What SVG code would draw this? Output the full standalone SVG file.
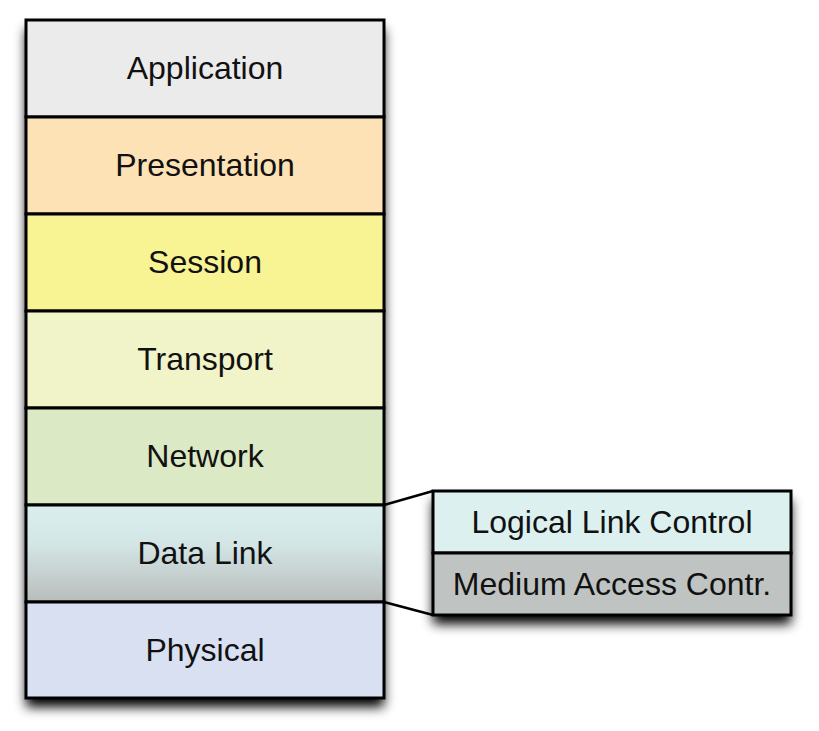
<svg xmlns="http://www.w3.org/2000/svg" width="819" height="731" viewBox="0 0 819 731">
<style>
.box{stroke:#000;stroke-width:3}
.lbl{font-family:"Liberation Sans",Arial,sans-serif;font-size:32px;fill:#111;text-anchor:middle}
.con{stroke:#000;stroke-width:2.5;fill:none}
</style>
<defs>
<filter id="sh" x="-20%" y="-20%" width="140%" height="140%">
<feGaussianBlur in="SourceAlpha" stdDeviation="6"/>
<feOffset dx="0" dy="9" result="b"/>
<feComponentTransfer><feFuncA type="linear" slope="1"/></feComponentTransfer>
<feMerge><feMergeNode/><feMergeNode in="SourceGraphic"/></feMerge>
</filter>
<linearGradient id="dl" x1="0" y1="0" x2="0" y2="1">
<stop offset="0" stop-color="#d9efee"/>
<stop offset="0.4" stop-color="#d3e6e5"/>
<stop offset="1" stop-color="#b9bdbc"/>
</linearGradient>
</defs>
<rect x="26" y="20" width="358" height="678" fill="#fff" filter="url(#sh)"/>
<rect x="433" y="491" width="358" height="124" fill="#fff" filter="url(#sh)"/>
<g id="connectors">
<line class="con" x1="384" y1="505" x2="433" y2="491"/>
<line class="con" x1="384" y1="602" x2="433" y2="615"/>
</g>
<g id="application"><rect class="box" x="26" y="20" width="358" height="97" fill="#ebebeb"/><text class="lbl" x="205" y="79">Application</text></g>
<g id="presentation"><rect class="box" x="26" y="117" width="358" height="97" fill="#fde2b6"/><text class="lbl" x="205" y="176">Presentation</text></g>
<g id="session"><rect class="box" x="26" y="214" width="358" height="97" fill="#f8f393"/><text class="lbl" x="205" y="273">Session</text></g>
<g id="transport"><rect class="box" x="26" y="311" width="358" height="97" fill="#f1f4c8"/><text class="lbl" x="205" y="370">Transport</text></g>
<g id="network"><rect class="box" x="26" y="408" width="358" height="97" fill="#dbe9c4"/><text class="lbl" x="205" y="467">Network</text></g>
<g id="datalink"><rect class="box" x="26" y="505" width="358" height="97" fill="url(#dl)"/><text class="lbl" x="205" y="564">Data Link</text></g>
<g id="physical"><rect class="box" x="26" y="602" width="358" height="96" fill="#d8e0f2"/><text class="lbl" x="205" y="661">Physical</text></g>
<g id="llc"><rect class="box" x="433" y="491" width="358" height="62" fill="#dcf0ef"/><text class="lbl" x="612" y="533">Logical Link Control</text></g>
<g id="mac"><rect class="box" x="433" y="553" width="358" height="62" fill="#bfc3c2"/><text class="lbl" x="612" y="595">Medium Access Contr.</text></g>
</svg>
